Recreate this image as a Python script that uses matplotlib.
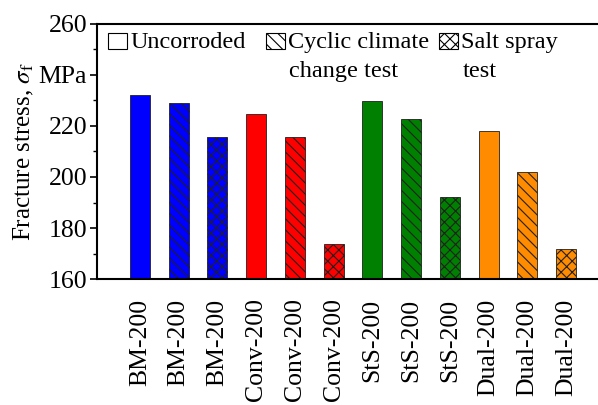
import numpy as np
import matplotlib
matplotlib.use("Agg")
import matplotlib.pyplot as plt
from matplotlib.patches import Rectangle

plt.rcParams['font.family'] = ['Liberation Serif', 'DejaVu Serif']
plt.rcParams['mathtext.fontset'] = 'stix'
plt.rcParams['hatch.linewidth'] = 0.8

labels = ['BM-200', 'BM-200', 'BM-200', 'Conv-200', 'Conv-200', 'Conv-200',
          'StS-200', 'StS-200', 'StS-200', 'Dual-200', 'Dual-200', 'Dual-200']
stress = [232.2, 229.1, 215.6, 224.7, 215.8, 173.7,
          229.8, 222.9, 192.3, 218.2, 202.0, 171.6]
colors = ['#0000ff'] * 3 + ['#ff0000'] * 3 + ['#008000'] * 3 + ['#ff8c00'] * 3
hatches = ['', '\\\\\\', 'xxx'] * 4
legend_first = ['Uncorroded', 'Cyclic climate', 'Salt spray']
legend_second = ['', 'change test', 'test']

fig = plt.figure(figsize=(5.98, 4.05), dpi=100)
ax = fig.add_axes([0.162, 0.311, 0.856, 0.630])

x = np.arange(len(stress))
for i in range(len(stress)):
    ax.bar(x[i], stress[i] - 160, bottom=160, width=0.52, color=colors[i],
           edgecolor='#202020', linewidth=0.6, hatch=hatches[i])

ax.set_ylim(160, 260)
ax.set_xlim(-1.11, 12.1)
ax.set_yticks([160, 180, 200, 220, 240, 260])
ax.set_yticklabels(['160', '180', '200', '220', 'MPa', '260'])
ax.set_yticks([170, 190, 210, 230, 250], minor=True)
ax.set_xticks(x)
ax.set_xticklabels(labels, rotation=90, va='top', ha='center')
ax.tick_params(axis='x', length=0, pad=14, labelsize=18.5)
ax.tick_params(axis='y', which='major', length=5, width=1.2, labelsize=18.5, pad=2)
ax.tick_params(axis='y', which='minor', length=3, width=1.0)
for s in ax.spines.values():
    s.set_linewidth(1.5)

ax.set_ylabel(r'Fracture stress, $\sigma_{\rm f}$', fontsize=18)
ax.yaxis.set_label_coords(-0.118, 0.5)

# legend drawn by hand (first lines share a baseline, handles sit on line 1)
box_x = [0.0215, 0.330, 0.668]
text_x = [0.066, 0.373, 0.711]
for k in range(3):
    ax.add_patch(Rectangle((box_x[k], 0.902), 0.037, 0.063, transform=ax.transAxes,
                           facecolor='white', edgecolor='black', linewidth=0.8,
                           hatch=['', '\\\\\\', 'xxx'][k], clip_on=False))
    ax.text(text_x[k], 0.904, legend_first[k], transform=ax.transAxes,
            fontsize=17.5, va='baseline', ha='left')
    if legend_second[k]:
        ax.text(text_x[k] + 0.003, 0.79, legend_second[k], transform=ax.transAxes,
                fontsize=17.5, va='baseline', ha='left')

fig.savefig('out.png', dpi=100)
